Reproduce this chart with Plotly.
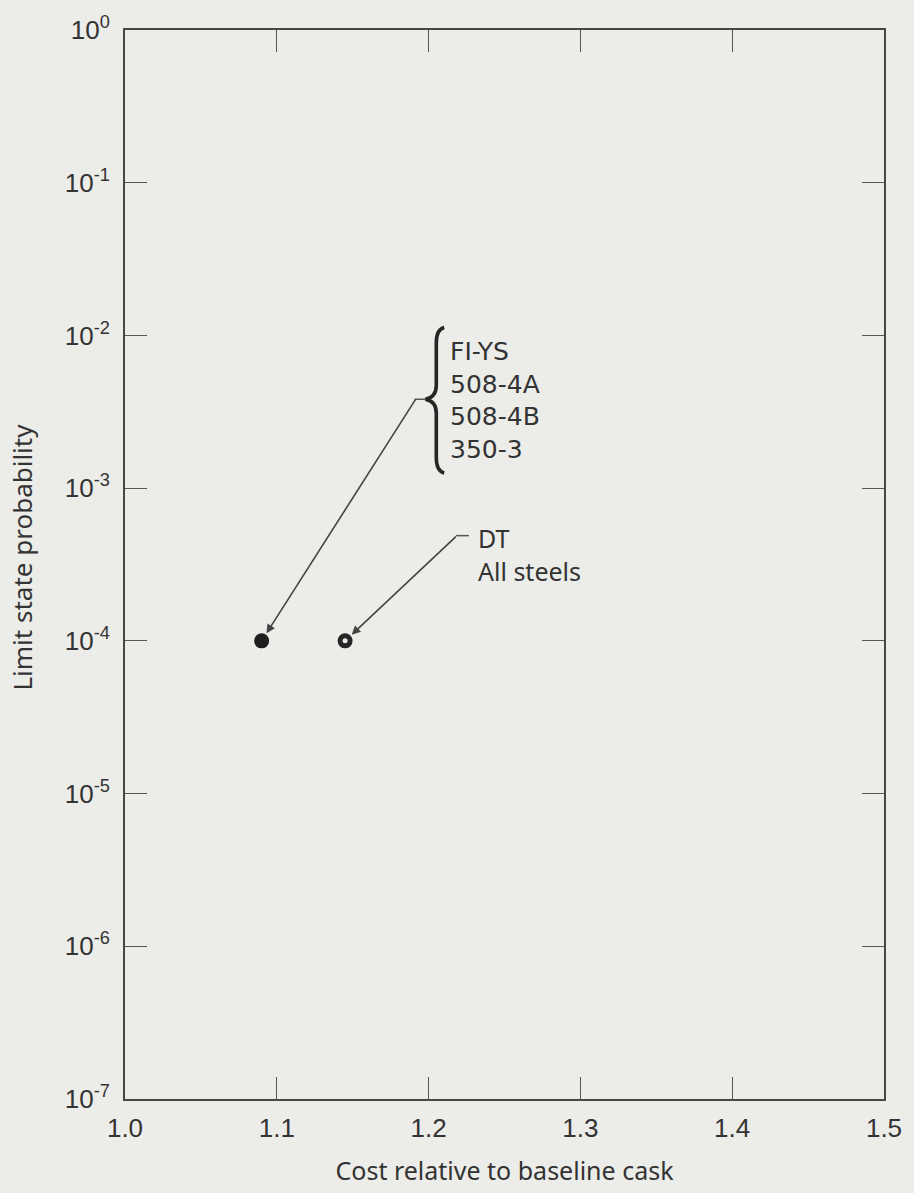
import numpy as np
import plotly.graph_objects as go

# ---- data ----
cost = [1.09, 1.145]                 # cost relative to baseline cask
prob = [1e-4, 1e-4]                  # limit state probability
series = ["FI-YS / 508-4A / 508-4B / 350-3", "DT, all steels"]
group_label = ["FI-YS", "508-4A", "508-4B", "350-3"]
dt_label = ["DT", "All steels"]

x_tick_vals = [1.0, 1.1, 1.2, 1.3, 1.4, 1.5]
x_tick_text = ["1.0", "1.1", "1.2", "1.3", "1.4", "1.5"]
y_tick_vals = [1e-7, 1e-6, 1e-5, 1e-4, 1e-3, 1e-2, 1e-1, 1e0]
y_tick_text = ["10<sup>-7</sup>", "10<sup>-6</sup>", "10<sup>-5</sup>", "10<sup>-4</sup>",
               "10<sup>-3</sup>", "10<sup>-2</sup>", "10<sup>-1</sup>", "10<sup>0</sup>"]

# ---- layout geometry ----
W, H = 914, 1193
ML, MR, MT, MB = 125, 21, 28, 91
PW, PH = W - ML - MR, H - MT - MB
BG = "#ecece9"
INK = "#333333"
AXC = "#474747"


def px(xp):
    return (xp - ML) / PW


def py(yp):
    return (H - MB - yp) / PH


fig = go.Figure()
fig.add_trace(go.Scatter(
    x=[cost[0]], y=[prob[0]], mode="markers", name=series[0],
    marker=dict(symbol="circle", size=15, color="#1e1e1e", line=dict(width=0)),
))
fig.add_trace(go.Scatter(
    x=[cost[1]], y=[prob[1]], mode="markers", name=series[1],
    marker=dict(symbol="circle-open", size=10, color="#262626", line=dict(width=5, color="#262626")),
))

axis_common = dict(
    showline=True, linewidth=2, linecolor=AXC, mirror="ticks",
    ticks="inside", ticklen=22, tickwidth=1.2, tickcolor="#555555",
    showgrid=False, zeroline=False,
    tickfont=dict(family="Liberation Sans", size=26, color=INK),
)

fig.update_xaxes(
    range=[1.0, 1.5], tickvals=x_tick_vals, ticktext=x_tick_text,
    ticklabelstandoff=5,
    title=dict(text="Cost relative to baseline cask",
               font=dict(family="Noto Sans", size=25, color=INK), standoff=20),
    **axis_common,
)
fig.update_yaxes(
    type="log", range=[-7, 0], tickvals=y_tick_vals, ticktext=y_tick_text,
    ticklabelstandoff=8,
    **axis_common,
)

# y-axis title placed close to the left edge, as in the reference
fig.add_annotation(x=0, y=py(558), xref="paper", yref="paper", xshift=-(ML - 22),
                   text="Limit state probability", textangle=-90, showarrow=False,
                   xanchor="center", yanchor="middle",
                   font=dict(family="Noto Sans", size=26, color=INK))

# brace drawn as a path (decoration of the annotation)
bx, bm, bt, bb, tip = 440, 399, 327, 473, 429
brace = (f"M {px(448)} {py(bt)} Q {px(bx)} {py(bt+2)} {px(bx)} {py(bt+15)} "
         f"L {px(bx)} {py(bm-14)} Q {px(bx)} {py(bm-2)} {px(tip)} {py(bm)} "
         f"Q {px(bx)} {py(bm+2)} {px(bx)} {py(bm+14)} "
         f"L {px(bx)} {py(bb-15)} Q {px(bx)} {py(bb-2)} {px(448)} {py(bb)}")
fig.add_shape(type="path", path=brace, xref="paper", yref="paper",
              line=dict(color="#262626", width=3.6))
fig.add_shape(type="line", xref="paper", yref="paper",
              x0=px(418), x1=px(tip), y0=py(bm), y1=py(bm),
              line=dict(color="#555555", width=1.5))
fig.add_shape(type="line", xref="paper", yref="paper",
              x0=px(460), x1=px(473), y0=py(536), y1=py(536),
              line=dict(color="#555555", width=1.5))

# arrows to the points
xa = lambda v: ML + (v - 1.0) / 0.5 * PW
ya = lambda v: MT + (0 - np.log10(v)) / 7 * PH
fig.add_annotation(x=cost[0], y=np.log10(prob[0]), xref="x", yref="y", text="",
                   showarrow=True, ax=418 - xa(cost[0]), ay=399 - ya(prob[0]),
                   arrowhead=2, arrowsize=1.1, arrowwidth=1.6, arrowcolor="#444444", standoff=9)
fig.add_annotation(x=cost[1], y=np.log10(prob[1]), xref="x", yref="y", text="",
                   showarrow=True, ax=460 - xa(cost[1]), ay=536 - ya(prob[1]),
                   arrowhead=2, arrowsize=1.1, arrowwidth=1.6, arrowcolor="#444444", standoff=9)

fig.add_annotation(x=px(452), y=py(400), xref="paper", yref="paper",
                   text="<br>".join(group_label), showarrow=False,
                   xanchor="left", yanchor="middle", align="left",
                   font=dict(family="DejaVu Sans", size=25, color=INK))
fig.add_annotation(x=px(480), y=py(555), xref="paper", yref="paper",
                   text="<br>".join(dt_label), showarrow=False,
                   xanchor="left", yanchor="middle", align="left",
                   font=dict(family="Noto Sans", size=25, color=INK))

fig.update_layout(
    width=W, height=H, margin=dict(l=ML, r=MR, t=MT, b=MB),
    paper_bgcolor=BG, plot_bgcolor=BG, showlegend=False,
)

fig.write_html("out.html")
